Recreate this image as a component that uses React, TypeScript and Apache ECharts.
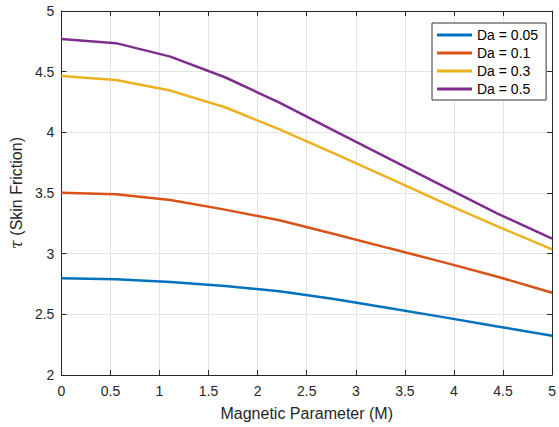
import React, { useEffect, useRef } from "react";
import * as echarts from "echarts";

const M = [0, 0.556, 1.111, 1.667, 2.222, 2.778, 3.333, 3.889, 4.444, 5.0];
const da005 = [2.797, 2.789, 2.767, 2.734, 2.69, 2.626, 2.553, 2.477, 2.4, 2.324];
const da01 = [3.503, 3.49, 3.443, 3.363, 3.275, 3.162, 3.046, 2.93, 2.81, 2.678];
const da03 = [4.465, 4.432, 4.344, 4.207, 4.025, 3.826, 3.624, 3.42, 3.225, 3.036];
const da05 = [4.77, 4.735, 4.624, 4.454, 4.245, 4.015, 3.786, 3.557, 3.33, 3.124];
const seriesNames = ["Da = 0.05", "Da = 0.1", "Da = 0.3", "Da = 0.5"];
const colors = ["#0072BD", "#D95319", "#EDB120", "#7E2F8E"];

export default function App() {
  const ref = useRef<HTMLDivElement>(null);
  useEffect(() => {
    if (!ref.current) return;
    const chart = echarts.init(ref.current, null, { renderer: "svg" });
    const all = [da005, da01, da03, da05];
    const font = "'Liberation Sans', Arial, sans-serif";
    const axisColor = "#262626";
    const baseX = {
      type: "value" as const,
      min: 0,
      max: 5,
      interval: 0.5,
      axisLine: { show: true, onZero: false, lineStyle: { color: axisColor, width: 1 } },
      axisTick: { show: true, inside: true, length: 5, lineStyle: { color: axisColor } },
      splitLine: { show: false },
    };
    const baseY = {
      type: "value" as const,
      min: 2,
      max: 5,
      interval: 0.5,
      axisLine: { show: true, onZero: false, lineStyle: { color: axisColor, width: 1 } },
      axisTick: { show: true, inside: true, length: 5, lineStyle: { color: axisColor } },
      splitLine: { show: false },
    };
    chart.setOption({
      animation: false,
      color: colors,
      textStyle: { fontFamily: font },
      grid: { left: 58, right: 4, top: 11, bottom: 52, containLabel: false },
      legend: {
        orient: "vertical",
        left: 432,
        top: 23,
        itemWidth: 35,
        itemHeight: 3,
        itemGap: 4,
        icon: "rect",
        padding: [5, 8, 4, 5],
        backgroundColor: "#ffffff",
        borderColor: "#333333",
        borderWidth: 1,
        borderRadius: 0,
        textStyle: { fontSize: 14, color: "#000", fontFamily: font },
        data: seriesNames,
      },
      xAxis: [
        {
          ...baseX,
          position: "bottom",
          axisLabel: { color: axisColor, fontSize: 14, margin: 9, fontFamily: font },
          splitLine: { show: true, lineStyle: { color: "#e3e3e3", width: 1 } },
          name: "Magnetic Parameter (M)",
          nameLocation: "middle",
          nameGap: 30,
          nameTextStyle: { fontSize: 16, color: axisColor, fontFamily: font },
        },
        { ...baseX, position: "top", axisLabel: { show: false } },
      ],
      yAxis: [
        {
          ...baseY,
          position: "left",
          axisLabel: { color: axisColor, fontSize: 14, margin: 7, fontFamily: font },
          splitLine: { show: true, lineStyle: { color: "#e3e3e3", width: 1 } },
          name: "{t|τ} (Skin Friction)",
          nameLocation: "middle",
          nameGap: 36,
          nameRotate: 90,
          nameTextStyle: {
            fontSize: 16,
            color: axisColor,
            fontFamily: font,
            rich: { t: { fontStyle: "italic", fontSize: 16, fontFamily: "'DejaVu Serif', serif", color: axisColor } },
          },
        },
        { ...baseY, position: "right", axisLabel: { show: false } },
      ],
      series: all.map((d, i) => ({
        name: seriesNames[i],
        type: "line",
        xAxisIndex: 0,
        yAxisIndex: 0,
        showSymbol: false,
        symbol: "none",
        lineStyle: { width: 2.5, color: colors[i] },
        data: M.map((x, j) => [x, d[j]]),
      })),
    });
    return () => chart.dispose();
  }, []);
  return (
    <div style={{ position: "absolute", left: 0, top: 0, width: 559, height: 427, background: "#fff" }}>
      <div ref={ref} style={{ width: 559, height: 427 }} />
    </div>
  );
}
